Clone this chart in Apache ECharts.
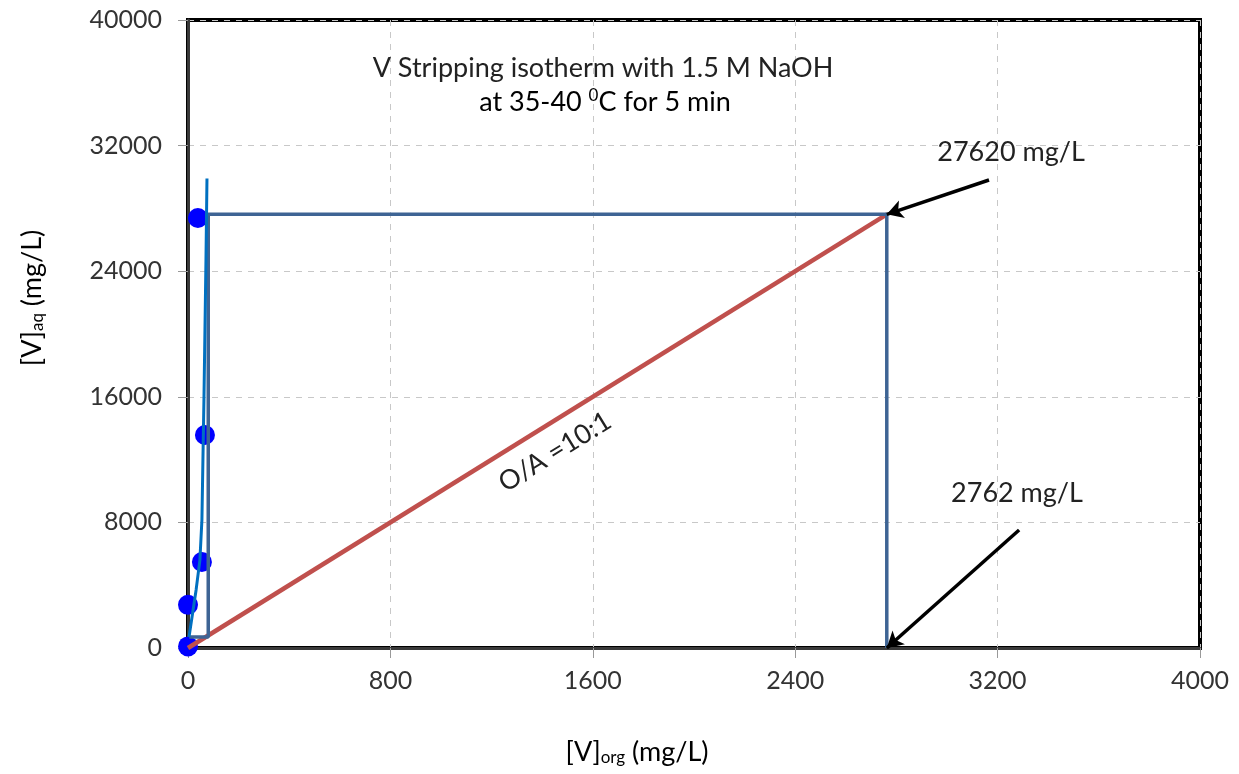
<!DOCTYPE html>
<html>
<head>
<meta charset="utf-8">
<script src="https://cdn.jsdelivr.net/npm/echarts@6/dist/echarts.min.js"></script>
<style>html,body{margin:0;padding:0;background:#fff}#c{width:1239px;height:774px}</style>
</head>
<body>
<div id="c"></div>
<script>
// Data
const dotsX = [0, 0, 55, 67, 39];
const dotsY = [100, 2750, 5480, 13570, 27390];
const isoX = [4, 32, 47, 55, 59, 63, 67, 71, 75];
const isoY = [700, 3700, 5600, 8150, 12000, 15800, 20250, 24700, 29900];
const stepX = [5, 80, 80, 2762, 2762];
const stepY = [700, 700, 27620, 27620, 0];
const opX = [0, 2762];
const opY = [0, 27620];
const arrow1 = [[3166, 29810], [2762, 27620]];
const arrow2 = [[3285, 7516], [2762, 0]];
const xTicks = [0, 800, 1600, 2400, 3200, 4000];
const yTicks = [0, 8000, 16000, 24000, 32000, 40000];

const zip = (a, b) => a.map((v, i) => [v, b[i]]);
const F = 'Lato, "Liberation Sans", sans-serif';
const TS = 27;
const chart = echarts.init(document.getElementById('c'));
chart.setOption({
  animation: false,
  backgroundColor: '#fff',
  grid: { left: 188, right: 39, top: 20, bottom: 126, show: true, borderColor: '#000', borderWidth: 4 },
  xAxis: {
    type: 'value', min: xTicks[0], max: xTicks[xTicks.length - 1], interval: 800,
    axisLine: { show: true, onZero: false, lineStyle: { color: '#3a3a3a', width: 3 } },
    axisTick: { show: true, length: 10, lineStyle: { color: '#999' } },
    axisLabel: { fontFamily: F, fontSize: 25, color: '#333', margin: 20, formatter: v => String(v) },
    splitLine: { show: true, lineStyle: { type: [6, 6], color: '#c8c8c8', width: 1 } }
  },
  yAxis: {
    type: 'value', min: yTicks[0], max: yTicks[yTicks.length - 1], interval: 8000,
    axisLine: { show: true, onZero: false, lineStyle: { color: '#3a3a3a', width: 3 } },
    axisTick: { show: true, length: 10, lineStyle: { color: '#999' } },
    axisLabel: { fontFamily: F, fontSize: 25, color: '#333', margin: 26, formatter: v => String(v) },
    splitLine: { show: true, lineStyle: { type: [6, 6], color: '#c8c8c8', width: 1 } }
  },
  series: [
    { type: 'scatter', data: zip(dotsX, dotsY), symbolSize: 20, clip: false,
      itemStyle: { color: '#0000ff', opacity: 1 }, z: 2 },
    { type: 'line', data: zip(opX, opY), showSymbol: false, symbol: 'none',
      lineStyle: { color: '#c0504d', width: 4.5 }, z: 3 },
    { type: 'line', data: zip(stepX, stepY), showSymbol: false, symbol: 'none',
      lineStyle: { color: '#3e6494', width: 3.5 }, z: 4 },
    { type: 'line', data: zip(isoX, isoY), showSymbol: false, symbol: 'none',
      lineStyle: { color: '#0070c0', width: 3 }, z: 5 },
    { type: 'line', data: [], z: 6,
      markLine: {
        silent: true, symbol: ['none', 'arrow'], symbolSize: [14, 16],
        label: { show: false },
        lineStyle: { color: '#000', width: 3.5, type: 'solid' },
        data: [
          [{ coord: arrow1[0] }, { coord: arrow1[1] }],
          [{ coord: arrow2[0] }, { coord: arrow2[1] }]
        ]
      } }
  ],
  graphic: [
    { type: 'text', x: 603, y: 68, z: 10,
      style: { text: 'V Stripping isotherm with 1.5 M NaOH', font: TS + 'px ' + F, fill: '#222',
        textAlign: 'center', textVerticalAlign: 'middle' } },
    { type: 'text', x: 605, y: 102, z: 10,
      style: { text: '{a|at 35-40 }{s|0}{a|C for 5 min}', textAlign: 'center', textVerticalAlign: 'middle',
        rich: { a: { fontFamily: F, fontSize: TS, color: '#222' },
                s: { fontFamily: F, fontSize: 17, color: '#222', verticalAlign: 'top', padding: [0, 0, 12, 0] } } } },
    { type: 'text', x: 1011, y: 152, z: 10,
      style: { text: '27620 mg/L', font: TS + 'px ' + F, fill: '#222', textAlign: 'center', textVerticalAlign: 'middle' } },
    { type: 'text', x: 1017, y: 493, z: 10,
      style: { text: '2762 mg/L', font: TS + 'px ' + F, fill: '#222', textAlign: 'center', textVerticalAlign: 'middle' } },
    { type: 'text', x: 555, y: 452, rotation: 0.554, z: 10,
      style: { text: 'O/A =10:1', font: TS + 'px ' + F, fill: '#222', textAlign: 'center', textVerticalAlign: 'middle' } },
    { type: 'text', x: 32, y: 298, rotation: Math.PI / 2, z: 10,
      style: { text: '{a|[V]}{s|aq}{a| (mg/L)}', textAlign: 'center', textVerticalAlign: 'middle',
        rich: { a: { fontFamily: F, fontSize: TS, color: '#222' },
                s: { fontFamily: F, fontSize: 17, color: '#222', verticalAlign: 'bottom', padding: [12, 0, 0, 0] } } } },
    { type: 'text', x: 637, y: 752, z: 10,
      style: { text: '{a|[V]}{s|org}{a| (mg/L)}', textAlign: 'center', textVerticalAlign: 'middle',
        rich: { a: { fontFamily: F, fontSize: TS, color: '#222' },
                s: { fontFamily: F, fontSize: 17, color: '#222', verticalAlign: 'bottom', padding: [12, 0, 0, 0] } } } }
  ]
});
</script>
</body>
</html>
